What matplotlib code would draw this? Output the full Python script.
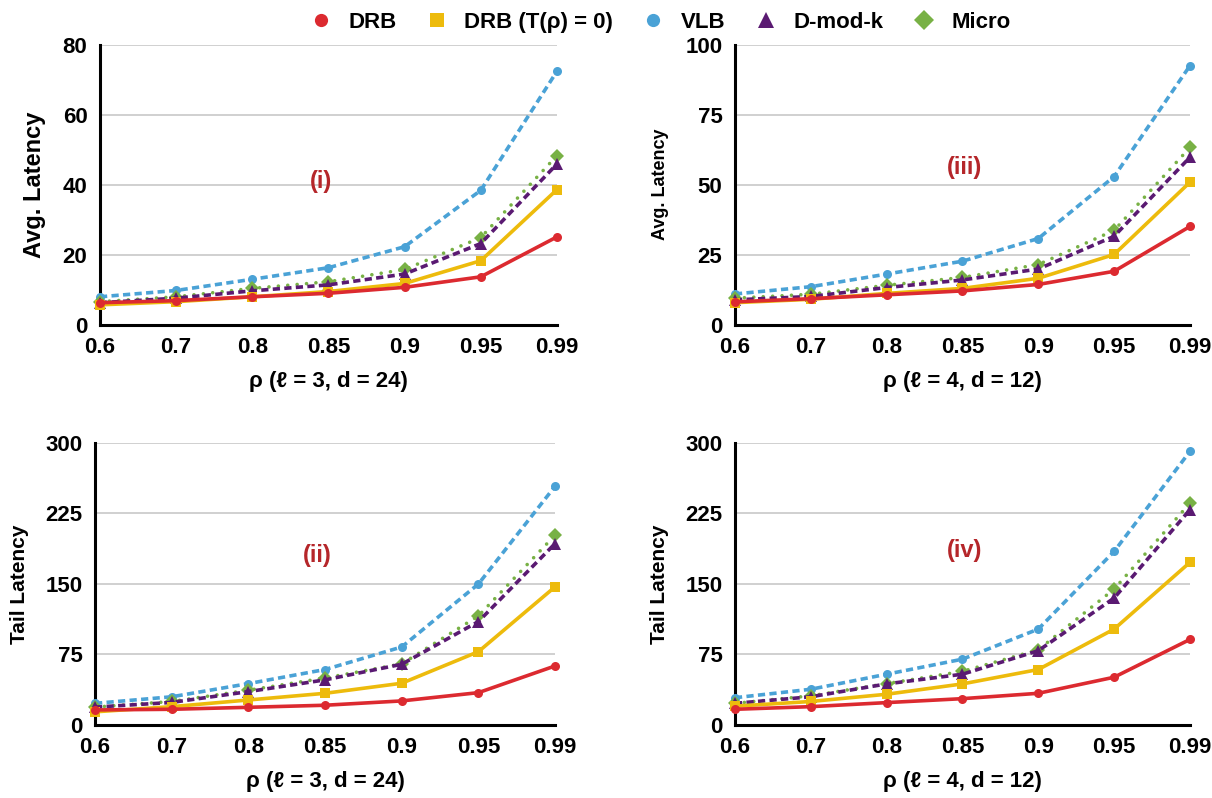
"""
Average and tail latency vs. load for the four routing schemes.
"""

import matplotlib
matplotlib.use("Agg")
import matplotlib.pyplot as plt
from matplotlib.lines import Line2D

plt.rcParams['font.family'] = ['Liberation Sans', 'DejaVu Sans']
plt.rcParams['font.weight'] = 'bold'

rho_labels = ['0.6', '0.7', '0.8', '0.85', '0.9', '0.95', '0.99']

# (i) avg latency, l=3, d=24
avg_l3_drb = [6.3, 6.9, 8.0, 9.0, 10.7, 13.7, 25.1]
avg_l3_drb0 = [5.7, 6.6, 8.0, 9.5, 11.8, 18.3, 38.6]
avg_l3_vlb = [8.0, 9.8, 13.0, 16.3, 22.3, 38.4, 72.4]
avg_l3_dmodk = [6.3, 7.6, 9.7, 11.4, 14.5, 23.2, 45.9]
avg_l3_micro = [6.6, 8.0, 10.4, 12.3, 15.8, 24.9, 48.3]

# (iii) avg latency, l=4, d=12
avg_l4_drb = [8.2, 9.3, 10.7, 12.1, 14.4, 19.1, 35.1]
avg_l4_drb0 = [7.9, 9.1, 11.2, 13.0, 16.6, 25.1, 50.9]
avg_l4_vlb = [11.0, 13.6, 18.1, 22.7, 30.8, 52.9, 92.5]
avg_l4_dmodk = [8.9, 10.1, 13.3, 16.0, 19.9, 31.6, 59.8]
avg_l4_micro = [9.5, 10.9, 14.1, 16.9, 21.5, 33.7, 63.3]

# (ii) tail latency, l=3, d=24
tail_l3_drb = [16, 16.7, 18.8, 21, 25.6, 34.4, 62.8]
tail_l3_drb0 = [14, 19.5, 26.6, 33.7, 44.4, 78, 147]
tail_l3_vlb = [23, 30, 44, 59, 83, 150, 254]
tail_l3_dmodk = [19, 24, 35.5, 48, 64.6, 110, 193]
tail_l3_micro = [19, 25, 37, 50, 65, 116, 202]

# (iv) tail latency, l=4, d=12
tail_l4_drb = [16.7, 19.5, 23.8, 28, 33.7, 50.8, 91]
tail_l4_drb0 = [20, 25, 32.7, 43.7, 59, 102, 173]
tail_l4_vlb = [29, 38, 54, 70, 102, 184.6, 291]
tail_l4_dmodk = [23, 30, 43.7, 54, 79, 135, 229]
tail_l4_micro = [23, 31, 44, 57, 80, 144.5, 236]

series_names = ['DRB', 'DRB (T(ρ) = 0)', 'VLB', 'D-mod-k', 'Micro']

# name: (color, linestyle, marker, markersize)
styles = {
    'DRB': ('#DC2A30', '-', 'o', 6.5),
    'DRB (T(ρ) = 0)': ('#EDBB0C', '-', 's', 6.5),
    'VLB': ('#4AA2D6', (0, (2.0, 1.2)), 'o', 6.5),
    'D-mod-k': ('#5A1A72', (0, (2.0, 1.2)), '^', 8.5),
    'Micro': ('#78B145', (0, (0.01, 2.6)), 'D', 7.5),
}
draw_order = ['VLB', 'Micro', 'D-mod-k', 'DRB (T(ρ) = 0)', 'DRB']

panels = [
    # position, data, ymax, yticks, ylabel, ylabel size, xlabel, tag, tag pos
    ([0.0825, 0.593, 0.377, 0.351],
     [avg_l3_drb, avg_l3_drb0, avg_l3_vlb, avg_l3_dmodk, avg_l3_micro],
     80, [0, 20, 40, 60, 80], 'Avg. Latency', 17, 'ρ (ℓ = 3, d = 24)',
     '(i)', (2.9, 41)),
    ([0.6064, 0.593, 0.3754, 0.351],
     [avg_l4_drb, avg_l4_drb0, avg_l4_vlb, avg_l4_dmodk, avg_l4_micro],
     100, [0, 25, 50, 75, 100], 'Avg. Latency', 13, 'ρ (ℓ = 4, d = 12)',
     '(iii)', (3.03, 56)),
    ([0.0784, 0.0915, 0.3796, 0.3534],
     [tail_l3_drb, tail_l3_drb0, tail_l3_vlb, tail_l3_dmodk, tail_l3_micro],
     300, [0, 75, 150, 225, 300], 'Tail Latency', 15, 'ρ (ℓ = 3, d = 24)',
     '(ii)', (2.9, 180)),
    ([0.6064, 0.0915, 0.3754, 0.3534],
     [tail_l4_drb, tail_l4_drb0, tail_l4_vlb, tail_l4_dmodk, tail_l4_micro],
     300, [0, 75, 150, 225, 300], 'Tail Latency', 15, 'ρ (ℓ = 4, d = 12)',
     '(iv)', (3.03, 186)),
]

fig = plt.figure(figsize=(12.12, 7.98), dpi=100)

for pos, data, ymax, yticks, ylabel, ylsize, xlabel, tag, tag_xy in panels:
    ax = fig.add_axes(pos)
    x = range(len(rho_labels))
    values = dict(zip(series_names, data))
    for k, name in enumerate(draw_order):
        color, ls, marker, ms = styles[name]
        ax.plot(x, values[name], color=color, linestyle=ls, lw=2.6,
                dash_capstyle='round' if name == 'Micro' else 'butt',
                marker=marker, markersize=ms, markeredgewidth=0,
                zorder=3 + k, clip_on=False)

    ax.set_xlim(0, len(rho_labels) - 1)
    ax.set_ylim(0, ymax)
    ax.set_xticks(list(x))
    ax.set_xticklabels(rho_labels)
    ax.set_yticks(yticks)
    ax.tick_params(length=0, labelsize=16, pad=9)
    ax.yaxis.grid(True, color='#C4C4C4', lw=1.1)
    ax.set_axisbelow(True)
    for side in ['top', 'right']:
        ax.spines[side].set_visible(False)
    for side in ['left', 'bottom']:
        ax.spines[side].set_linewidth(2.2)
    ax.set_ylabel(ylabel, fontsize=ylsize, fontweight='bold', labelpad=12)
    ax.set_xlabel(xlabel, fontsize=16, fontweight='bold', labelpad=9)
    ax.text(tag_xy[0], tag_xy[1], tag, color='#B5262A', fontsize=17,
            fontweight='bold', ha='center', va='center')

handles = []
for name in series_names:
    color, ls, marker, ms = styles[name]
    handles.append(Line2D([], [], color=color, linestyle='none',
                          marker=marker, markersize=ms + 3,
                          markeredgewidth=0))
fig.legend(handles, series_names, loc='upper center',
           bbox_to_anchor=(0.54, 1.01), ncol=5, frameon=False,
           fontsize=16, handletextpad=0.25, columnspacing=0.8)

fig.savefig("out.png", dpi=100)
